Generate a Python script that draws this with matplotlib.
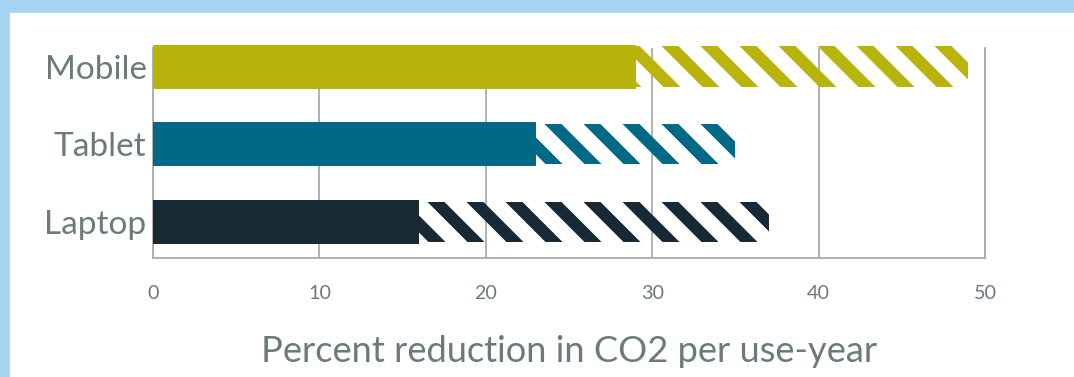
import matplotlib
matplotlib.use("Agg")
import matplotlib.pyplot as plt
from matplotlib.patches import Rectangle

# data
devices = ["Laptop", "Tablet", "Mobile"]
solid_part = [16, 23, 29]
total_reduction = [37, 35, 49]
bar_colors = ["#172935", "#006986", "#b8b40b"]
xticks = [0, 10, 20, 30, 40, 50]

text_col = "#6b7c72"
grid_col = "#ababab"

# dpi picked so the single-backslash hatch gives stripes ~39 px apart
DPI = 117
plt.rcParams["font.family"] = ["Lato", "DejaVu Sans"]
plt.rcParams["hatch.linewidth"] = 7.4

fig = plt.figure(figsize=(1074 / DPI, 377 / DPI), dpi=DPI)
fig.patch.set_facecolor("white")

# light blue frame on top and left
fig.patches.append(Rectangle((0, 0), 9 / 1074, 1, transform=fig.transFigure,
                             color="#a6d3ef", zorder=0))
fig.patches.append(Rectangle((0, 1 - 12 / 377), 1, 12 / 377, transform=fig.transFigure,
                             color="#a6d3ef", zorder=0))

ax = fig.add_axes([153 / 1074, 119 / 377, 832 / 1074, 210 / 377])

ypos = list(range(len(devices)))
for y, s, t, c in zip(ypos, solid_part, total_reduction, bar_colors):
    ax.barh(y, t - s, left=s, height=0.515, facecolor="none", edgecolor=c,
            hatch="\\", linewidth=0, clip_on=False, zorder=2)
    ax.barh(y, s, height=0.566, color=c, linewidth=0, clip_on=False, zorder=3)

ax.set_xlim(0, 50)
ax.set_ylim(-0.463, 2.238)
ax.set_xticks(xticks)
ax.set_yticks(ypos)
ax.set_yticklabels(devices)
ax.tick_params(axis="both", length=0, colors=text_col)
ax.tick_params(axis="x", labelsize=12.2, pad=16.4)
ax.tick_params(axis="y", labelsize=20.5, pad=4)

ax.set_axisbelow(True)
ax.grid(axis="x", color=grid_col, linewidth=1.1)
ax.grid(axis="y", visible=False)
for side in ["left", "bottom", "right"]:
    ax.spines[side].set_color(grid_col)
    ax.spines[side].set_linewidth(1.1)
ax.spines["top"].set_visible(False)

ax.set_xlabel("Percent reduction in CO2 per use-year", fontsize=22.3, color=text_col,
              labelpad=20.6)

fig.savefig("out.png", dpi=DPI)
